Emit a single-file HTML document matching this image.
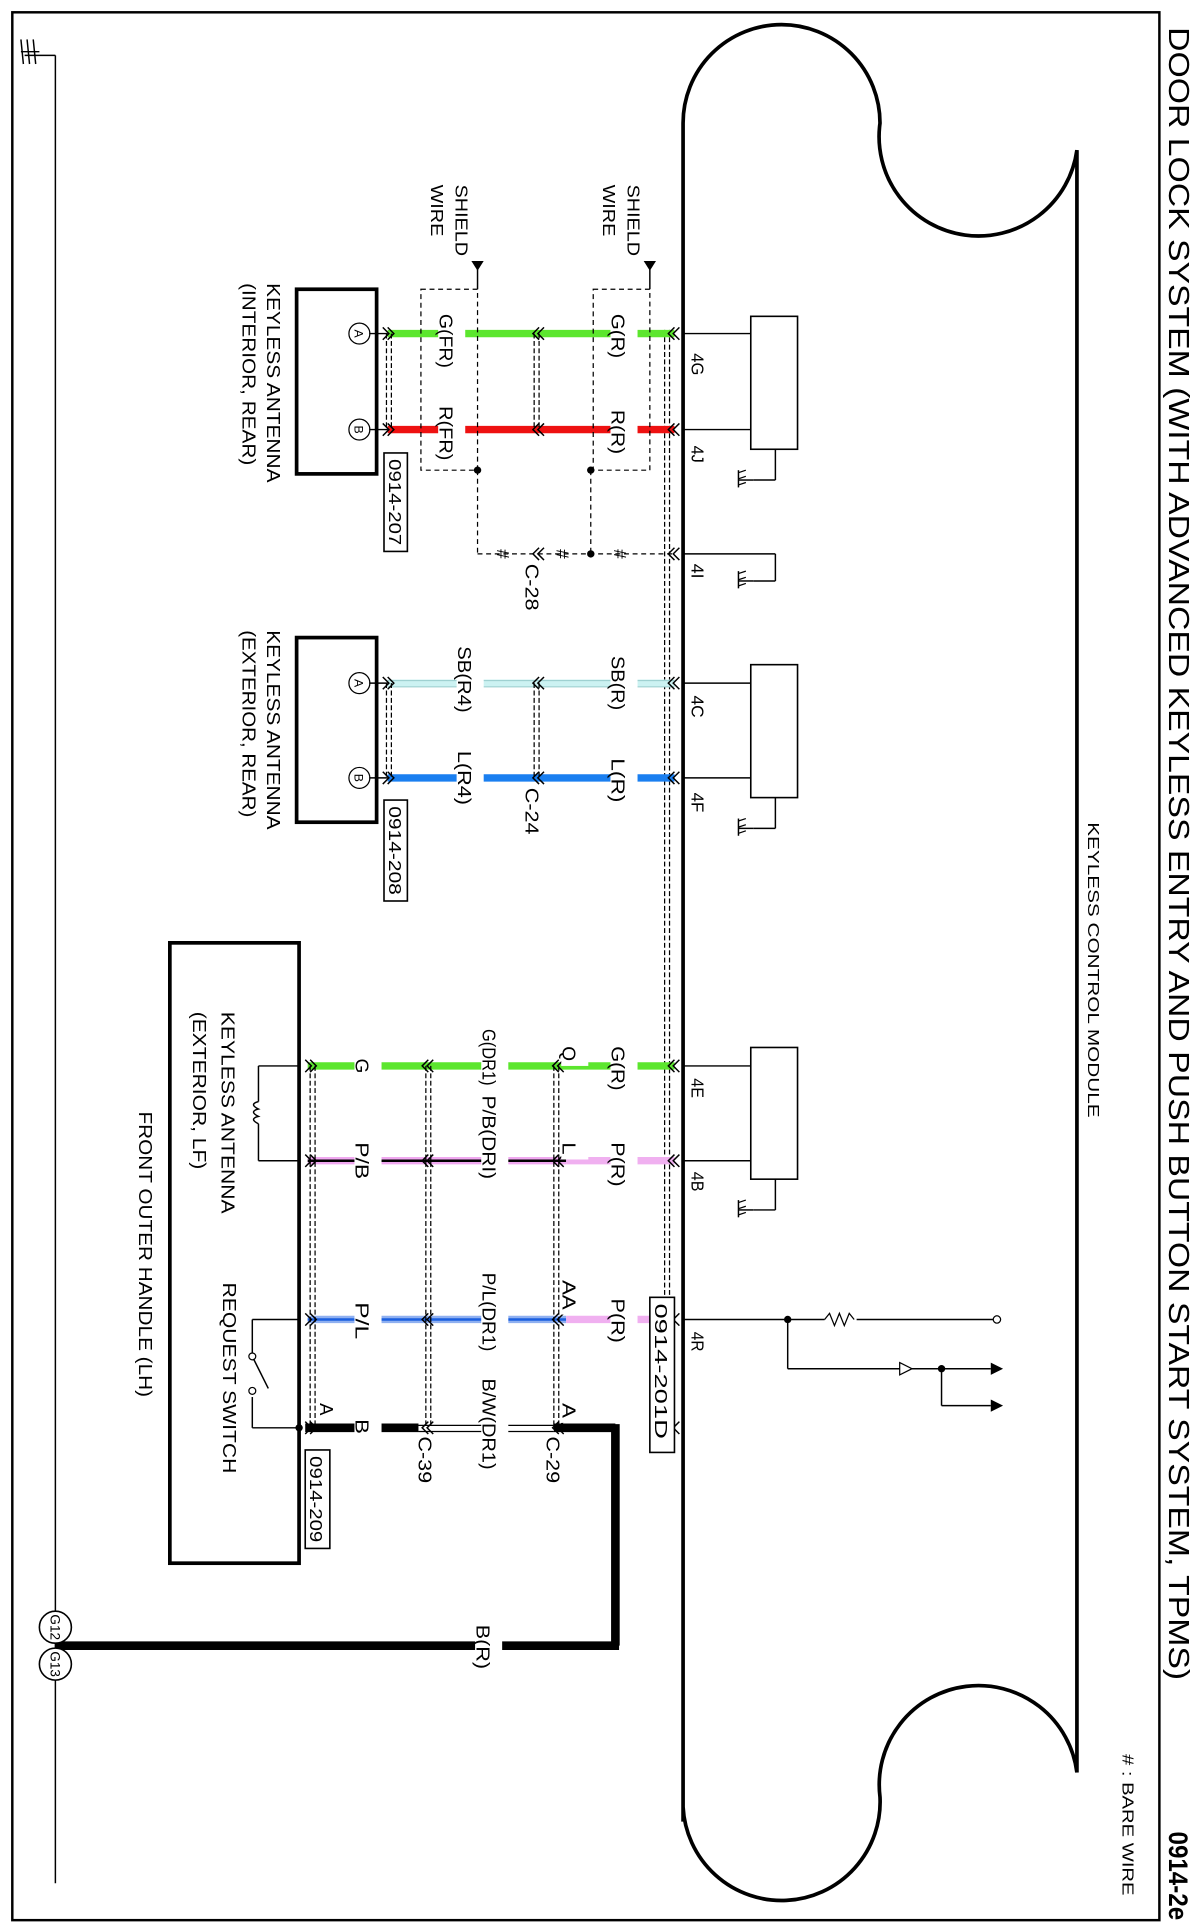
<!DOCTYPE html>
<html><head><meta charset="utf-8"><style>html,body{margin:0;padding:0;background:#fff}svg{display:block}text{font-family:"Liberation Sans",sans-serif;fill:#000}</style></head>
<body>
<svg id="s" xmlns="http://www.w3.org/2000/svg" width="1200" height="1930" viewBox="0 0 975 1568" preserveAspectRatio="none">
<rect x="10" y="10" width="932" height="1550" fill="none" stroke="#000" stroke-width="2"/>
<path d="M555,1480 L555,100 A80,80 0 0 1 715,100 A80,80 0 0 0 875,122 L875,1440 A80,80 0 0 0 715,1460 A80,80 0 0 1 555,1468" fill="none" stroke="#000" stroke-width="3"/>
<g id="g"></g>
</svg>
<script>
const g=document.getElementById('g');let h='';
function L(x1,y1,x2,y2,c,w,d){h+=`<line x1="${x1}" y1="${y1}" x2="${x2}" y2="${y2}" stroke="${c||'#000'}" stroke-width="${w||1.2}" ${d?`stroke-dasharray="${d}"`:''}/>`;}
function T(x,y,s,sz,b,len){h+=`<text x="${x}" y="${y}" font-size="${sz||14}" ${b?'font-weight="bold"':''} ${len?`textLength="${len}" lengthAdjust="spacingAndGlyphs"`:''} transform="rotate(90 ${x} ${y})">${s}</text>`;}
function gnd(x,y){L(x,y,x-12,y);for(let i=0;i<3;i++)L(x-12,y-6+i*5,x-6,y-8+i*5,'#000',1);L(x-12,y-8,x-12,y+6);}
function chev(x,y,dir){const d=dir||-1;for(let k=0;k<2;k++){const xx=x+k*4*(-d);h+=`<polyline points="${xx},${y-5} ${xx+d*5},${y} ${xx},${y+5}" fill="none" stroke="#000" stroke-width="1.2"/>`;}}
// title
T(950,22,'DOOR LOCK SYSTEM (WITH ADVANCED KEYLESS ENTRY AND PUSH BUTTON START SYSTEM, TPMS)',23,0,1343);
T(950,1488,'0914-2e',22,1,72);
T(912,1425,'# : BARE WIRE',13,0,115);
T(884,668,'KEYLESS CONTROL MODULE',13,0,240);
// left ground bus
L(45,45,45,1530,'#000',1.2);L(20,45,45,45);for(let i=0;i<3;i++)L(17+i*5,32,19+i*5,52);L(17,42,32,42);
// internal boxes
function box(y1,y2,a,b){h+=`<rect x="610" y="${y1}" width="38" height="${y2-y1}" fill="none" stroke="#000" stroke-width="1.3"/>`;L(556,a,610,a);L(556,b,610,b);L(630,y2,630,y2+25);L(630,y2+25,612,y2+25);gnd(612,y2+25);}
box(257,365,271,349);box(540,648,555,632);box(851,958,866,943);
L(556,450,630,450);L(630,450,630,472);L(630,472,612,472);gnd(612,472);
// 4R
L(556,1072,810,1072);h+=`<circle cx="640" cy="1072" r="3"/><circle cx="810" cy="1072" r="3" fill="#fff" stroke="#000"/>`;
h+=`<rect x="670" y="1066" width="26" height="12" fill="#fff"/><polyline points="670,1072 674,1067 678,1077 682,1067 686,1077 690,1067 694,1072" fill="none" stroke="#000"/>`;
L(640,1072,640,1112);L(640,1112,805,1112);h+=`<polygon points="731,1107 741,1112 731,1117" fill="#fff" stroke="#000"/><circle cx="765" cy="1112" r="3"/><polygon points="805,1107 815,1112 805,1117"/>`;
L(765,1112,765,1142);L(765,1142,805,1142);h+=`<polygon points="805,1137 815,1142 805,1147"/>`;
[['4G',287,18],['4J',362,14],['4I',458,12],['4C',565,18],['4F',644,16],['4E',876,16],['4B',952,16],['4R',1082,16]].forEach(p=>T(562,p[1],p[0],14,0,p[2]));
// harness dashed verticals
[540,544].forEach(x=>L(x,268,x,1075,'#000',1,'4,2'));
// wires
function wire(y,x1,x2,c,c2,w){L(x1,y,x2,y,c,w||6);if(c2)L(x1,y,x2,y,c2,2);}
wire(271,315,548,'#5ce62e');wire(349,315,548,'#ee1111');
wire(555,315,548,'#ccf2f2');L(315,553,548,553,'#9cc',0.8);L(315,558,548,558,'#9cc',0.8);
wire(632,315,548,'#1a7ff0');
wire(866,250,548,'#5ce62e');
wire(943,250,460,'#f0a8f0','#000');wire(943,460,548,'#f0b0f0');
wire(1072,250,460,'#8fb0f0','#1a5fe0');wire(1072,460,548,'#f0b0f0');
L(248,1160,340,1160,'#000',7);L(340,1158,450,1158,'#000',1);L(340,1163,450,1163,'#000',1);L(450,1160,500,1160,'#000',7);
L(500,1157,500,1337,'#000',7);L(503,1337,45,1337,'#000',7);
// shields
h+=`<rect x="482" y="235" width="46" height="147" fill="none" stroke="#000" stroke-dasharray="4,3"/><rect x="342" y="235" width="46" height="147" fill="none" stroke="#000" stroke-dasharray="4,3"/>`;
L(388,382,388,450,'#000',1,'4,3');L(480,382,480,450,'#000',1,'4,3');L(388,450,548,450,'#000',1,'4,3');
h+=`<circle cx="388" cy="382" r="3"/><circle cx="480" cy="382" r="3"/><circle cx="480" cy="450" r="3"/>`;
L(388,215,388,235);L(528,215,528,235);
T(370,150,'SHIELD',14,0,58);T(350,150,'WIRE',14,0,42);T(510,150,'SHIELD',14,0,58);T(490,150,'WIRE',14,0,42);
h+=`<polygon points="383,212 388,220 393,212"/><polygon points="523,212 528,220 533,212"/>`;
// connector dashed pairs
function pair(x,y1,y2){L(x-2,y1,x-2,y2,'#000',1,'4,2');L(x+2,y1,x+2,y2,'#000',1,'4,2');}
pair(436,271,349);pair(436,555,632);pair(316,271,349);pair(316,555,632);
pair(452,866,1160);pair(348,866,1160);pair(254,866,1160);
[271,349].forEach(y=>{chev(548,y);chev(438,y);chev(315,y,1);});chev(548,450);chev(438,450);
[555,632].forEach(y=>{chev(548,y);chev(438,y);chev(315,y,1);});
[866,943,1072,1160].forEach(y=>{chev(548,y);chev(454,y);chev(348,y);chev(252,y,1);});
// labels with gaps
function WL(x,y,s,len){const n=len||s.length*8.5;h+=`<rect x="${x-9}" y="${y-6}" width="22" height="${n+10}" fill="#fff"/>`;T(x-8,y,s,15,0,len);}
WL(505,255,'G(R)',36);WL(365,255,'G(FR)',44);WL(505,333,'R(R)',36);WL(365,330,'R(FR)',44);
WL(505,533,'SB(R)',44);WL(380,525,'SB(R4)',54);WL(505,616,'L(R)',36);WL(380,610,'L(R4)',44);
WL(505,850,'G(R)',36);WL(465,850,'Q',12);WL(400,836,'G(DR1)',46);WL(297,860,'G',12);
WL(505,928,'P(R)',36);WL(465,928,'L',10);WL(400,890,'P/B(DRI)',68);WL(297,928,'P/B',30);
WL(505,1055,'P(R)',36);WL(465,1040,'AA',24);WL(400,1034,'P/L(DR1)',64);WL(297,1058,'P/L',30);
WL(465,1140,'A',12);WL(400,1120,'B/W(DR1)',74);WL(297,1153,'B',12);T(260,1140,'A',15);
WL(395,1320,'B(R)',36);
T(427,458,'C-28',15,0,38);T(427,640,'C-24',15,0,38);T(444,1167,'C-29',15,0,38);T(340,1167,'C-39',15,0,38);
['410','458','505'].forEach(x=>{h+=`<text x="${x}" y="456" font-size="14" text-anchor="middle" transform="rotate(90 ${x} 450)">#</text>`;});
// antenna boxes
h+=`<rect x="241" y="235" width="65" height="150" fill="none" stroke="#000" stroke-width="3"/><rect x="241" y="518" width="65" height="150" fill="none" stroke="#000" stroke-width="3"/><rect x="138" y="766" width="105" height="504" fill="none" stroke="#000" stroke-width="3"/>`;
[[271,'A'],[349,'B'],[555,'A'],[632,'B']].forEach(p=>{h+=`<circle cx="292" cy="${p[0]}" r="8.5" fill="#fff" stroke="#000"/>`;h+=`<text x="292" y="${p[0]+4}" font-size="10" text-anchor="middle" transform="rotate(90 292 ${p[0]})">${p[1]}</text>`;});
L(300,271,315,271);L(300,349,315,349);L(300,555,315,555);L(300,632,315,632);
T(217,230,'KEYLESS ANTENNA',15,0,162);T(197,230,'(INTERIOR, REAR)',15,0,148);
T(217,512,'KEYLESS ANTENNA',15,0,162);T(197,512,'(EXTERIOR, REAR)',15,0,152);
function tag(x,y,w,hh,s,len){h+=`<rect x="${x}" y="${y}" width="${w}" height="${hh}" fill="#fff" stroke="#000" stroke-width="1.3"/>`;T(x+4,y+5,s,14,0,len||hh-10);}
tag(312,368,19,80,'0914-207');tag(312,650,19,82,'0914-208');tag(248,1178,20,80,'0914-209');tag(528,1054,20,126,'0914-201D',110);
// LF antenna internals
L(243,866,210,866);L(210,866,210,943);L(210,943,243,943);
h+=`<rect x="204" y="895" width="8" height="18" fill="#fff"/><path d="M210,895 q-8,2 0,6 q-8,2 0,6 q-8,2 0,6" fill="none" stroke="#000" stroke-width="1.2"/>`;
T(180,822,'KEYLESS ANTENNA',15,0,164);T(157,822,'(EXTERIOR, LF)',15,0,128);
L(243,1072,205,1072);L(205,1072,205,1100);L(205,1135,205,1160);L(205,1160,243,1160);
h+=`<circle cx="205" cy="1102" r="2.8" fill="#fff" stroke="#000"/><circle cx="205" cy="1130" r="2.8" fill="#fff" stroke="#000"/>`;L(206,1104,218,1128);
h+=`<circle cx="243" cy="1160" r="3"/>`;
T(181,1042,'REQUEST SWITCH',15,0,155);T(113,903,'FRONT OUTER HANDLE (LH)',15,0,232);
// G12 G13
[1322,1352].forEach((y,i)=>{h+=`<circle cx="45" cy="${y}" r="13" fill="#fff" stroke="#000" stroke-width="1.3"/><text x="45" y="${y+4}" font-size="11" text-anchor="middle" transform="rotate(90 45 ${y})">${i?'G13':'G12'}</text>`;});
g.innerHTML=h;
</script>
</body></html>
